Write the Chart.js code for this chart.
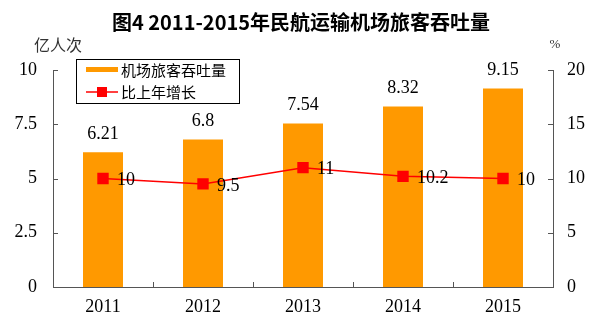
<!DOCTYPE html>
<html>
<head>
<meta charset="utf-8">
<script src="https://cdn.jsdelivr.net/npm/chart.js@4"></script>
<style>
  html, body { margin: 0; padding: 0; background: #fff; }
  #wrap { width: 595px; height: 329px; }
</style>
</head>
<body>
<div id="wrap"><canvas id="c" width="595" height="329"></canvas></div>
<script>
const years = ['2011', '2012', '2013', '2014', '2015'];
const passengers = [6.21, 6.8, 7.54, 8.32, 9.15];
const growth = [10, 9.5, 11, 10.2, 10];
const leftTicks = [0, 2.5, 5, 7.5, 10];
const rightTicks = [0, 5, 10, 15, 20];

const serif = "'Liberation Serif', 'Noto Sans CJK SC', serif";
const cjk = "'Noto Sans CJK SC', 'Liberation Serif', sans-serif";
const axisColor = '#555';

// title, units, inside ticks, value labels, legend box
const extras = {
  id: 'extras',
  afterDraw(chart) {
    const ctx = chart.ctx;
    const area = chart.chartArea;
    const yl = chart.scales.y, yr = chart.scales.y1;
    ctx.save();

    ctx.fillStyle = '#000';
    ctx.textAlign = 'center';
    ctx.textBaseline = 'middle';
    ctx.font = "bold 20px " + cjk;
    ctx.fillText('图4 2011-2015年民航运输机场旅客吞吐量', 301, 22);

    ctx.font = "16px " + cjk;
    ctx.fillStyle = '#333';
    ctx.fillText('亿人次', 58, 45);
    ctx.font = "13px " + serif;
    ctx.fillText('%', 555, 45);

    // ticks pointing inward
    ctx.strokeStyle = axisColor;
    ctx.lineWidth = 1;
    ctx.beginPath();
    leftTicks.forEach(v => {
      const py = Math.round(yl.getPixelForValue(v)) + 0.5;
      ctx.moveTo(area.left, py); ctx.lineTo(area.left + 5, py);
    });
    rightTicks.forEach(v => {
      const py = Math.round(yr.getPixelForValue(v)) + 0.5;
      ctx.moveTo(area.right, py); ctx.lineTo(area.right - 5, py);
    });
    const w = (area.right - area.left) / years.length;
    for (let i = 1; i < years.length; i++) {
      const px = Math.round(area.left + i * w) + 0.5;
      ctx.moveTo(px, area.bottom); ctx.lineTo(px, area.bottom - 5);
    }
    ctx.stroke();

    // value labels
    ctx.fillStyle = '#000';
    ctx.font = "18px " + serif;
    chart.getDatasetMeta(0).data.forEach((b, i) => {
      ctx.textAlign = 'center';
      ctx.textBaseline = 'bottom';
      ctx.fillText(String(passengers[i]), b.x, b.y - 9);
    });
    chart.getDatasetMeta(1).data.forEach((p, i) => {
      ctx.textAlign = 'left';
      ctx.textBaseline = 'middle';
      ctx.fillText(String(growth[i]), p.x + 14, p.y + 2);
    });

    // legend
    const ds = chart.data.datasets;
    const lx = 76.5, ly = 59.5, lw = 163, lh = 44;
    ctx.fillStyle = '#fff';
    ctx.fillRect(lx, ly, lw, lh);
    ctx.strokeStyle = '#000';
    ctx.strokeRect(lx, ly, lw, lh);
    ctx.fillStyle = ds[0].backgroundColor;
    ctx.fillRect(86, 67, 32, 5);
    ctx.strokeStyle = ds[1].borderColor;
    ctx.lineWidth = 1.5;
    ctx.beginPath();
    ctx.moveTo(86, 92); ctx.lineTo(118, 92);
    ctx.stroke();
    ctx.fillStyle = ds[1].pointBackgroundColor;
    ctx.fillRect(97, 87, 10, 10);
    ctx.fillStyle = '#000';
    ctx.font = "15px " + cjk;
    ctx.textAlign = 'left';
    ctx.textBaseline = 'middle';
    ctx.fillText(ds[0].label, 121, 70);
    ctx.fillText(ds[1].label, 121, 92);

    ctx.restore();
  }
};

new Chart(document.getElementById('c'), {
  type: 'bar',
  data: {
    labels: years,
    datasets: [
      {
        label: '机场旅客吞吐量',
        data: passengers,
        backgroundColor: '#FF9900',
        categoryPercentage: 1,
        barPercentage: 0.4,
        yAxisID: 'y',
        order: 2
      },
      {
        type: 'line',
        label: '比上年增长',
        data: growth,
        borderColor: '#FF0000',
        borderWidth: 1.5,
        pointStyle: 'rect',
        pointRadius: 7,
        pointBackgroundColor: '#FF0000',
        pointBorderColor: '#FF0000',
        yAxisID: 'y1',
        order: 1
      }
    ]
  },
  options: {
    responsive: false,
    animation: false,
    layout: { padding: { top: 70, left: 0, right: 0, bottom: 0 } },
    plugins: { legend: { display: false }, tooltip: { enabled: false } },
    scales: {
      x: {
        grid: { display: false, drawTicks: false },
        border: { color: axisColor },
        ticks: { color: '#000', font: { family: serif, size: 18 }, padding: 9 },
        afterFit(s) { s.height = 42; }
      },
      y: {
        position: 'left',
        min: 0, max: 10,
        afterBuildTicks(s) { s.ticks = leftTicks.map(v => ({ value: v })); },
        grid: { display: false, drawTicks: false },
        border: { color: axisColor },
        ticks: { color: '#000', font: { family: serif, size: 18 }, padding: 16 },
        afterFit(s) { s.width = 53; }
      },
      y1: {
        position: 'right',
        min: 0, max: 20,
        afterBuildTicks(s) { s.ticks = rightTicks.map(v => ({ value: v })); },
        grid: { display: false, drawTicks: false },
        border: { color: axisColor },
        ticks: { color: '#000', font: { family: serif, size: 18 }, padding: 14 },
        afterFit(s) { s.width = 42; }
      }
    }
  },
  plugins: [extras]
});
</script>
</body>
</html>
